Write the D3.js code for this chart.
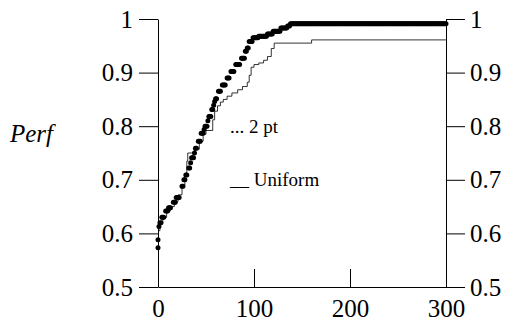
<html>
<head>
  <script src="https://d3js.org/d3.v7.min.js"></script>
  <style>
    body { margin: 0; }
    svg text { font-family: "Times New Roman", "Liberation Serif", Tinos, serif !important; }
    .axis path, .axis line { stroke: #000; stroke-width: 1px; }
  </style>
</head>
<body>
  <svg id="chart" width="511" height="326" font-family="Times New Roman"></svg>
  <script>
    // x axis / y axis ticks
    const xTicks = [0, 100, 200, 300];
    const yTicks = [0.5, 0.6, 0.7, 0.8, 0.9, 1];

    // "2 pt" series: runs of dots [xStart, xEnd, perf], one dot per unit of x
    const twoPtRuns = [
      [0, 0, 0.573], [0, 0, 0.588], [1, 1, 0.613],
      [2, 3, 0.620], [4, 6, 0.630], [8, 10, 0.642], [11, 13, 0.648],
      [16, 18, 0.658], [19, 22, 0.667], [25, 26, 0.688], [27, 28, 0.700],
      [29, 30, 0.709], [32, 33, 0.722], [34, 34, 0.732], [35, 37, 0.741],
      [38, 38, 0.750], [39, 40, 0.759], [42, 44, 0.772], [45, 47, 0.787],
      [48, 48, 0.794], [49, 51, 0.800], [52, 52, 0.810], [53, 55, 0.818],
      [56, 57, 0.831], [58, 58, 0.839], [59, 59, 0.846], [60, 61, 0.851],
      [63, 65, 0.865], [67, 70, 0.877], [72, 74, 0.890], [76, 79, 0.902],
      [81, 85, 0.915], [87, 90, 0.927], [91, 92, 0.940], [93, 94, 0.946],
      [95, 98, 0.958], [99, 104, 0.965], [105, 113, 0.968], [114, 119, 0.972],
      [120, 127, 0.977], [128, 134, 0.983], [135, 137, 0.987], [138, 300, 0.991]
    ];

    // "Uniform" series: step line points
    const uniformX = [0, 2, 5, 9, 13, 17, 21, 25, 28, 30, 31, 38, 43, 47, 50, 57,
      59, 62, 65, 68, 72, 77, 83, 88, 93, 95, 97, 100, 105, 110, 114, 118, 121, 160, 300];
    const uniformY = [0.605, 0.618, 0.630, 0.642, 0.650, 0.660, 0.672, 0.690, 0.710, 0.735,
      0.750, 0.757, 0.772, 0.785, 0.792, 0.812, 0.828, 0.838, 0.845, 0.850, 0.856, 0.862,
      0.868, 0.874, 0.882, 0.895, 0.910, 0.915, 0.918, 0.923, 0.930, 0.945, 0.955, 0.961, 0.961];

    const svg = d3.select("svg#chart");
    const x = d3.scaleLinear().domain([0, 300]).range([158, 446]);
    const y = d3.scaleLinear().domain([0.5, 1]).range([287, 19]);

    const styleTicks = g => {
      g.attr("font-family", "Times New Roman").attr("font-size", 25);
      g.selectAll("text").attr("fill", "#000");
    };

    // left axis
    svg.append("g")
      .attr("class", "axis")
      .attr("transform", `translate(${x(0)},0)`)
      .call(d3.axisLeft(y).tickValues(yTicks).tickSize(19).tickSizeOuter(0).tickPadding(6).tickFormat(d3.format("")))
      .call(styleTicks);

    // right axis
    svg.append("g")
      .attr("class", "axis")
      .attr("transform", `translate(${x(300)},0)`)
      .call(d3.axisRight(y).tickValues(yTicks).tickSize(19).tickSizeOuter(0).tickPadding(5).tickFormat(d3.format("")))
      .call(styleTicks);

    // bottom axis, ticks pointing inward
    svg.append("g")
      .attr("class", "axis")
      .attr("transform", `translate(0,${y(0.5)})`)
      .call(d3.axisBottom(x).tickValues(xTicks).tickSizeInner(-18).tickSizeOuter(0).tickPadding(12))
      .call(styleTicks);

    // uniform step line
    const line = d3.line()
      .x((d, i) => x(uniformX[i]))
      .y((d, i) => y(uniformY[i]))
      .curve(d3.curveStepAfter);
    svg.append("path")
      .datum(uniformX)
      .attr("d", line)
      .attr("fill", "none")
      .attr("stroke", "#000")
      .attr("stroke-width", 0.8);

    // 2 pt dots
    const dots = [];
    twoPtRuns.forEach(r => {
      for (let k = r[0]; k <= r[1]; k++) dots.push([k, r[2]]);
    });
    svg.append("g")
      .selectAll("circle")
      .data(dots)
      .join("circle")
      .attr("cx", d => x(d[0]))
      .attr("cy", d => y(d[1]))
      .attr("r", 2.5)
      .attr("fill", "#000");

    // y label
    svg.append("text")
      .attr("x", 10)
      .attr("y", 142)
      .attr("font-size", 25)
      .attr("font-style", "italic")
      .text("Perf");

    // legend
    svg.append("text")
      .attr("x", 230)
      .attr("y", 133)
      .attr("font-size", 19)
      .text("... 2 pt");
    svg.append("text")
      .attr("x", 230)
      .attr("y", 186)
      .attr("font-size", 19)
      .text("__ Uniform");
  </script>
</body>
</html>
